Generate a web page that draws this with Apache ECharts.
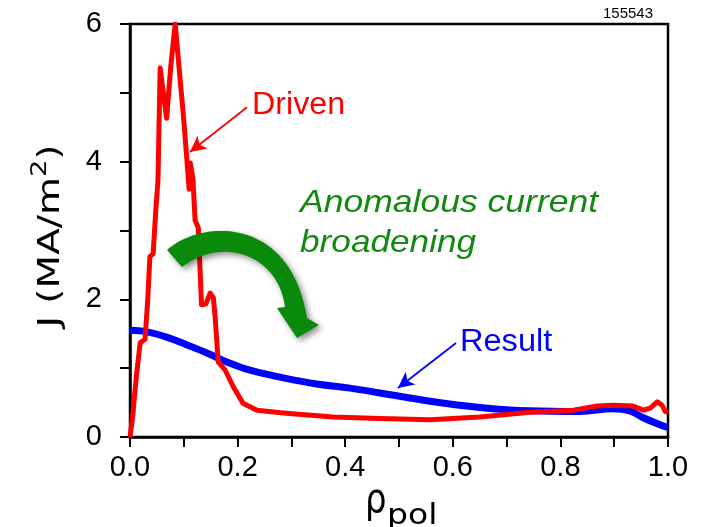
<!DOCTYPE html>
<html>
<head>
<meta charset="utf-8">
<script src="https://cdn.jsdelivr.net/npm/echarts@6/dist/echarts.min.js"></script>
<style>
  html, body { margin: 0; padding: 0; background: #fff; }
  #chart { width: 702px; height: 527px; }
</style>
</head>
<body>
<div id="chart"></div>
<script>
// Normalised poloidal flux coordinate and current density profiles (MA/m^2)
var drivenRho = [0, 0.005, 0.012, 0.019, 0.028, 0.033, 0.037, 0.043, 0.048, 0.052, 0.056, 0.062, 0.068, 0.076, 0.084,
  0.092, 0.1, 0.106, 0.11, 0.112, 0.117, 0.121, 0.127, 0.133, 0.141, 0.149, 0.155, 0.158, 0.164, 0.177, 0.192,
  0.21, 0.236, 0.285, 0.377, 0.465, 0.558, 0.65, 0.743, 0.824, 0.868, 0.898, 0.935, 0.954, 0.967, 0.98, 0.989, 0.995, 1.0];
var drivenJ = [0, 0.3, 0.9, 1.37, 1.42, 2.0, 2.62, 2.66, 3.3, 3.73, 5.36, 5.0, 4.63, 5.4, 6.0,
  5.3, 4.6, 4.0, 3.6, 3.98, 3.75, 3.15, 3.04, 1.92, 1.93, 2.09, 2.02, 1.77, 1.09, 0.97, 0.73,
  0.49, 0.39, 0.35, 0.29, 0.27, 0.25, 0.29, 0.36, 0.39, 0.45, 0.46, 0.45, 0.39, 0.42, 0.51, 0.46, 0.37, 0.36];

var resultRho = [0, 0.03, 0.068, 0.105, 0.143, 0.18, 0.223, 0.285, 0.347, 0.409, 0.465, 0.558, 0.65, 0.743,
  0.836, 0.898, 0.929, 0.954, 0.991, 1.0];
var resultJ = [1.55, 1.53, 1.45, 1.34, 1.22, 1.09, 0.97, 0.86, 0.77, 0.71, 0.64, 0.52, 0.43, 0.38,
  0.37, 0.41, 0.38, 0.28, 0.16, 0.14];

var xTicks = [0, 0.2, 0.4, 0.6, 0.8, 1.0];
var yTicks = [0, 2, 4, 6];

// Annotation arrows, in data coordinates: [tail, head]
var drivenArrow = [[0.2175, 4.79], [0.1115, 4.14]];
var resultArrow = [[0.606, 1.366], [0.498, 0.712]];

function pairs(xs, ys) {
  return xs.map(function (x, i) { return [x, ys[i]]; });
}

// Sample a cubic Bezier into a list of points
function cubic(p0, p1, p2, p3, n) {
  var pts = [];
  for (var i = 0; i <= n; i++) {
    var t = i / n, u = 1 - t;
    pts.push([
      u * u * u * p0[0] + 3 * u * u * t * p1[0] + 3 * u * t * t * p2[0] + t * t * t * p3[0],
      u * u * u * p0[1] + 3 * u * u * t * p1[1] + 3 * u * t * t * p2[1] + t * t * t * p3[1]
    ]);
  }
  return pts;
}

// Outline of the curved green arrow (outer arc, head, inner arc back)
var bendArrow = []
  .concat(cubic([167, 250], [200, 220], [290, 214], [307, 318], 40))
  .concat([[319, 325], [297, 338], [277, 308], [285, 307]])
  .concat(cubic([285, 307], [278, 254], [222, 236], [182, 267], 40));

var chart = echarts.init(document.getElementById('chart'), null, { renderer: 'canvas' });

var tickFont = 'Liberation Sans, Arial, Helvetica, sans-serif';

chart.setOption({
  animation: false,
  backgroundColor: '#ffffff',
  grid: {
    left: 130, right: 34, top: 24, bottom: 90,
    containLabel: false, outerBoundsMode: 'none',
    show: true, borderColor: '#000', borderWidth: 2.5, backgroundColor: 'transparent'
  },
  xAxis: {
    type: 'value',
    min: xTicks[0], max: xTicks[xTicks.length - 1], interval: 0.2,
    axisLine: { onZero: false, lineStyle: { color: '#000', width: 2.5 } },
    axisTick: { show: true, inside: false, length: 10, lineStyle: { color: '#000', width: 2 } },
    minorTick: { show: true, splitNumber: 2, length: 10, lineStyle: { color: '#000', width: 2 } },
    splitLine: { show: false },
    axisLabel: {
      color: '#000', fontFamily: tickFont, fontSize: 29, margin: 16,
      formatter: function (v) { return v.toFixed(1); }
    }
  },
  yAxis: {
    type: 'value',
    min: yTicks[0], max: yTicks[yTicks.length - 1], interval: 2,
    axisLine: { onZero: false, lineStyle: { color: '#000', width: 2.5 } },
    axisTick: { show: true, inside: false, length: 10, lineStyle: { color: '#000', width: 2 } },
    minorTick: { show: true, splitNumber: 2, length: 10, lineStyle: { color: '#000', width: 2 } },
    splitLine: { show: false },
    axisLabel: { color: '#000', fontFamily: tickFont, fontSize: 29, margin: 28 }
  },
  series: [
    {
      name: 'Result',
      type: 'line',
      data: pairs(resultRho, resultJ),
      showSymbol: false,
      smooth: 0.4,
      lineStyle: { color: '#0000ff', width: 7 },
      z: 2,
      markLine: {
        silent: true,
        symbol: ['none', 'arrow'],
        symbolSize: [12, 16],
        label: { show: false },
        lineStyle: { color: '#0000ff', width: 1.8, type: 'solid' },
        data: [[{ coord: resultArrow[0] }, { coord: resultArrow[1] }]]
      }
    },
    {
      name: 'Driven',
      type: 'line',
      data: pairs(drivenRho, drivenJ),
      showSymbol: false,
      clip: true,
      lineStyle: { color: '#ff0000', width: 5, join: 'round' },
      z: 3,
      markLine: {
        silent: true,
        symbol: ['none', 'arrow'],
        symbolSize: [12, 16],
        label: { show: false },
        lineStyle: { color: '#ff0000', width: 1.8, type: 'solid' },
        data: [[{ coord: drivenArrow[0] }, { coord: drivenArrow[1] }]]
      }
    }
  ],
  graphic: [
    {
      // y axis title, set sideways
      type: 'text', x: 48, y: 236, rotation: Math.PI / 2, scaleX: 1.3, z: 10,
      style: {
        text: '{a|J (MA/m}{s|2}{a|)}',
        align: 'center', verticalAlign: 'middle',
        rich: {
          a: { font: '30px DejaVu Sans, sans-serif', fill: '#000', verticalAlign: 'bottom' },
          s: { font: '21px DejaVu Sans, sans-serif', fill: '#000', verticalAlign: 'bottom', padding: [0, 0, 15, 0] }
        }
      }
    },
    {
      // x axis title: rho with "pol" subscript
      type: 'text', x: 365, y: 482, scaleX: 0.85, z: 10,
      style: { text: 'ρ', font: '40px DejaVu Sans, sans-serif', fill: '#000', verticalAlign: 'top' }
    },
    {
      type: 'text', x: 387, y: 502, scaleX: 1.14, z: 10,
      style: { text: 'pol', font: '29px DejaVu Sans, sans-serif', fill: '#000', verticalAlign: 'top' }
    },
    {
      type: 'text', x: 603, y: 6, z: 10,
      style: { text: '155543', font: '15px Liberation Sans, Arial, sans-serif', fill: '#000' }
    },
    {
      type: 'text', x: 252, y: 105, scaleX: 1.04, z: 10,
      style: { text: 'Driven', font: '31px Liberation Sans, Arial, sans-serif', fill: '#ff0000', verticalAlign: 'middle' }
    },
    {
      type: 'text', x: 460, y: 342, scaleX: 1.05, z: 10,
      style: { text: 'Result', font: '31px Liberation Sans, Arial, sans-serif', fill: '#0000ff', verticalAlign: 'middle' }
    },
    {
      type: 'text', x: 300, y: 203, scaleX: 1.11, z: 10,
      style: { text: 'Anomalous current', font: 'italic 32px Liberation Sans, Arial, sans-serif', fill: '#128a12', verticalAlign: 'middle' }
    },
    {
      type: 'text', x: 300, y: 243, scaleX: 1.1, z: 10,
      style: { text: 'broadening', font: 'italic 32px Liberation Sans, Arial, sans-serif', fill: '#128a12', verticalAlign: 'middle' }
    },
    {
      // curved broadening arrow
      type: 'polygon', z: 9,
      shape: { points: bendArrow },
      style: {
        fill: '#0a8a0a',
        shadowBlur: 6, shadowColor: 'rgba(0,0,0,0.45)', shadowOffsetX: 3, shadowOffsetY: 3
      }
    }
  ]
});
</script>
</body>
</html>
